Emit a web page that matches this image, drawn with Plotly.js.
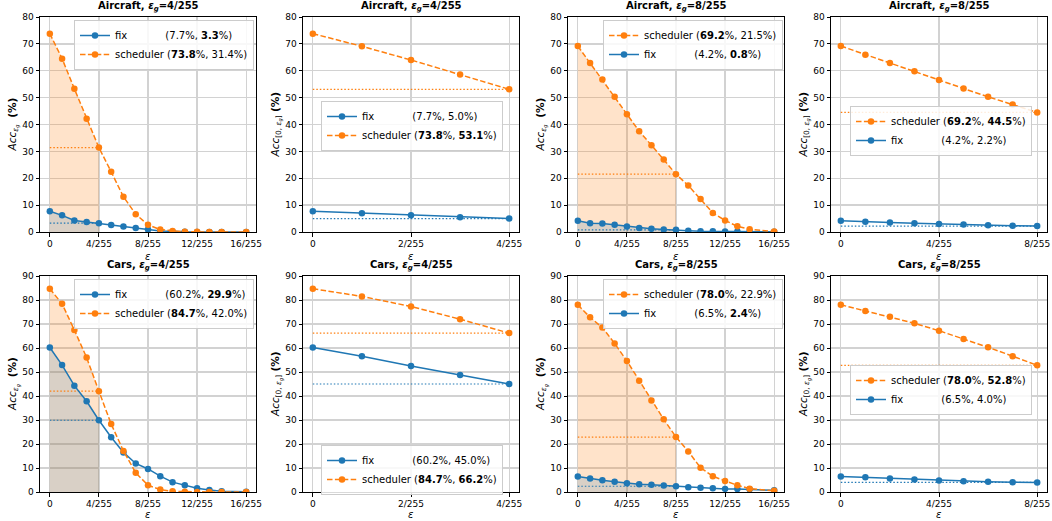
<!DOCTYPE html>
<html>
<head>
<meta charset="utf-8">
<script src="https://cdn.plot.ly/plotly-3.0.1.min.js"></script>
<style>html,body{margin:0;padding:0;background:#fff;}#chart{width:1052px;height:521px;}</style>
</head>
<body>
<div id="chart"></div>
<script>
// ---------------- DATA ----------------
const epsFull = [0,1,2,3,4,5,6,7,8,9,10,11,12,13,14,16];
const eps4 = [0,1,2,3,4];
const eps8 = [0,1,2,3,4,5,6,7,8];

const tickValsFull = [0,4,8,12,16];
const tickTextFull = ['0','4/255','8/255','12/255','16/255'];
const tickVals4 = [0,2,4];
const tickText4 = ['0','2/255','4/255'];
const tickVals8 = [0,4,8];
const tickText8 = ['0','4/255','8/255'];

// Aircraft, eps_g = 4/255
const air4Fix      = [7.7,6.2,4.3,3.7,3.3,2.6,2.0,1.5,0.9,0.4,0.1,0.05,0,0,0,0];
const air4Sched    = [73.8,64.5,53.3,42.1,31.4,22.4,13.1,6.6,2.7,0.9,0.4,0.1,0.05,0,0,0];
const air4FixAvg   = [7.7,7.0,6.2,5.5,5.0];
const air4SchedAvg = [73.8,69.1,64.0,58.6,53.1];
// Aircraft, eps_g = 8/255
const air8Fix      = [4.2,3.3,3.2,2.7,2.0,1.5,1.2,0.9,0.8,0.5,0.3,0.3,0.2,0.2,0.1,0.1];
const air8Sched    = [69.2,62.9,56.7,50.3,43.8,37.5,32.3,27.0,21.5,17.3,12.3,7.1,4.3,2.1,1.0,0.2];
const air8FixAvg   = [4.2,3.8,3.5,3.3,3.0,2.8,2.5,2.3,2.2];
const air8SchedAvg = [69.2,66.0,62.9,59.8,56.6,53.4,50.3,47.4,44.5];
// Cars, eps_g = 4/255
const cars4Fix      = [60.2,52.9,44.3,37.8,29.9,22.8,16.5,11.9,9.6,6.6,4.1,2.8,1.6,0.8,0.3,0.1];
const cars4Sched    = [84.7,78.4,67.5,56.0,42.0,28.3,17.1,8.0,2.8,1.0,0.3,0.1,0.05,0,0,0];
const cars4FixAvg   = [60.2,56.6,52.5,48.7,45.0];
const cars4SchedAvg = [84.7,81.5,77.3,72.0,66.2];
// Cars, eps_g = 8/255
const cars8Fix      = [6.5,5.6,4.9,4.3,3.6,3.2,3.0,2.7,2.4,2.0,1.8,1.6,1.3,1.2,1.1,0.7];
const cars8Sched    = [78.0,72.8,68.5,61.9,54.6,46.4,38.1,30.3,22.9,16.9,10.1,6.6,4.6,2.8,1.4,0.5];
const cars8FixAvg   = [6.5,6.1,5.6,5.2,4.8,4.5,4.3,4.1,4.0];
const cars8SchedAvg = [78.0,75.4,73.0,70.3,67.2,63.8,60.3,56.6,52.8];

// legend labels (clean %, robust %) ; bold marks the better one
const legFix = [
  '(7.7%, <b>3.3</b>%)', '(7.7%, 5.0%)', '(4.2%, <b>0.8</b>%)', '(4.2%, 2.2%)',
  '(60.2%, <b>29.9</b>%)', '(60.2%, 45.0%)', '(6.5%, <b>2.4</b>%)', '(6.5%, 4.0%)'];
const legSched = [
  '(<b>73.8</b>%, 31.4%)', '(<b>73.8</b>%, <b>53.1</b>%)', '(<b>69.2</b>%, 21.5%)', '(<b>69.2</b>%, <b>44.5</b>%)',
  '(<b>84.7</b>%, 42.0%)', '(<b>84.7</b>%, <b>66.2</b>%)', '(<b>78.0</b>%, 22.9%)', '(<b>78.0</b>%, <b>52.8</b>%)'];
const panelTitles = ['Aircraft', 'Aircraft', 'Aircraft', 'Aircraft', 'Cars', 'Cars', 'Cars', 'Cars'];
const panelEg = ['4/255','4/255','8/255','8/255','4/255','4/255','8/255','8/255'];

// ---------------- LAYOUT / STYLE ----------------
const W = 1052, H = 521;
const BLUE = '#1f77b4', ORANGE = '#ff7f0e';
const FONT = 'DejaVu Sans, sans-serif';
const cols = [[40,256],[303,519],[568,784],[831,1047]];
const rows = [[17,232],[276,492]];

const panels = [
  {kind:'curve', x:epsFull, fix:air4Fix,  sched:air4Sched,  eg:4, ymax:80, tv:tickValsFull, tt:tickTextFull, xr:[-0.8,16.8], leg:[74,20], schedFirst:false},
  {kind:'avg',   x:eps4,    fix:air4FixAvg, sched:air4SchedAvg, eg:4, ymax:80, tv:tickVals4, tt:tickText4, xr:[-0.2,4.2], leg:[321,101], schedFirst:false},
  {kind:'curve', x:epsFull, fix:air8Fix,  sched:air8Sched,  eg:8, ymax:80, tv:tickValsFull, tt:tickTextFull, xr:[-0.8,16.8], leg:[603,20], schedFirst:true},
  {kind:'avg',   x:eps8,    fix:air8FixAvg, sched:air8SchedAvg, eg:8, ymax:80, tv:tickVals8, tt:tickText8, xr:[-0.4,8.4], leg:[850,106], schedFirst:true},
  {kind:'curve', x:epsFull, fix:cars4Fix, sched:cars4Sched, eg:4, ymax:90, tv:tickValsFull, tt:tickTextFull, xr:[-0.8,16.8], leg:[74,279], schedFirst:false},
  {kind:'avg',   x:eps4,    fix:cars4FixAvg, sched:cars4SchedAvg, eg:4, ymax:90, tv:tickVals4, tt:tickText4, xr:[-0.2,4.2], leg:[321,445], schedFirst:false},
  {kind:'curve', x:epsFull, fix:cars8Fix, sched:cars8Sched, eg:8, ymax:90, tv:tickValsFull, tt:tickTextFull, xr:[-0.8,16.8], leg:[603,279], schedFirst:true},
  {kind:'avg',   x:eps8,    fix:cars8FixAvg, sched:cars8SchedAvg, eg:8, ymax:90, tv:tickVals8, tt:tickText8, xr:[-0.4,8.4], leg:[850,365], schedFirst:true},
];

const NB = '\u00a0';
const fixPad = 'fix' + NB.repeat(12);

const data = [];
const layout = {
  width: W, height: H,
  margin: {l:0, r:0, t:0, b:0},
  paper_bgcolor: '#fff', plot_bgcolor: '#fff',
  font: {family: FONT, size: 10, color: '#000'},
  showlegend: true,
  annotations: [],
  hovermode: false
};

panels.forEach((p, i) => {
  const n = i + 1;
  const xs = n === 1 ? '' : String(n);
  const xa = 'x' + xs, ya = 'y' + xs;
  const legName = n === 1 ? 'legend' : 'legend' + n;
  const rowIdx = Math.floor(i / 4);
  const c = cols[i % 4], r = rows[rowIdx];

  const axCommon = {
    showgrid: true, gridcolor: '#d2d2d2', gridwidth: 1.3,
    showline: true, mirror: true, linecolor: '#000', linewidth: 1,
    ticks: 'outside', ticklen: 3.5, tickcolor: '#000', tickwidth: 1,
    tickfont: {family: FONT, size: 9, color: '#000'}, zeroline: false, fixedrange: true
  };
  layout['xaxis' + xs] = Object.assign({
    domain: [c[0] / W, c[1] / W], anchor: ya, range: p.xr,
    tickmode: 'array', tickvals: p.tv, ticktext: p.tt
  }, axCommon);
  layout['yaxis' + xs] = Object.assign({
    domain: [1 - r[1] / H, 1 - r[0] / H], anchor: xa, range: [0, p.ymax],
    tickmode: 'linear', tick0: 0, dtick: 10
  }, axCommon);

  // fills under the curves up to eps_g
  if (p.kind === 'curve') {
    const xf = p.x.filter(v => v <= p.eg);
    data.push({x: xf, y: p.sched.slice(0, xf.length), xaxis: xa, yaxis: ya, mode: 'lines',
      fill: 'tozeroy', fillcolor: 'rgba(255,127,14,0.22)', line: {width: 0}, showlegend: false, hoverinfo: 'skip'});
    data.push({x: xf, y: p.fix.slice(0, xf.length), xaxis: xa, yaxis: ya, mode: 'lines',
      fill: 'tozeroy', fillcolor: 'rgba(31,119,180,0.17)', line: {width: 0}, showlegend: false, hoverinfo: 'skip'});
  }
  // dotted reference lines at value at eps_g
  const idx = p.x.indexOf(p.eg);
  const vS = p.sched[idx], vF = p.fix[idx];
  data.push({x: [0, p.eg], y: [vS, vS], xaxis: xa, yaxis: ya, mode: 'lines',
    line: {color: ORANGE, width: 1.2, dash: '1.5px,2px'}, showlegend: false, hoverinfo: 'skip'});
  data.push({x: [0, p.eg], y: [vF, vF], xaxis: xa, yaxis: ya, mode: 'lines',
    line: {color: BLUE, width: 1.2, dash: '1.5px,2px'}, showlegend: false, hoverinfo: 'skip'});

  const fixTr = {x: p.x, y: p.fix, xaxis: xa, yaxis: ya, mode: 'lines+markers', name: fixPad + legFix[i],
    line: {color: BLUE, width: 1.5}, marker: {color: BLUE, size: 6.5}, legend: legName, legendrank: p.schedFirst ? 2 : 1};
  const schTr = {x: p.x, y: p.sched, xaxis: xa, yaxis: ya, mode: 'lines+markers', name: 'scheduler ' + legSched[i],
    line: {color: ORANGE, width: 1.5, dash: '5.5px,2.4px'}, marker: {color: ORANGE, size: 6.5}, legend: legName, legendrank: p.schedFirst ? 1 : 2};
  data.push(fixTr, schTr);

  layout[legName] = {
    x: p.leg[0] / W, y: 1 - p.leg[1] / H, xanchor: 'left', yanchor: 'top',
    bgcolor: 'rgba(255,255,255,0.85)', bordercolor: '#cccccc', borderwidth: 1,
    font: {family: FONT, size: 10, color: '#000'}, itemwidth: 30, tracegroupgap: 0,
    traceorder: 'normal'
  };

  // subplot title
  layout.annotations.push({
    xref: 'paper', yref: 'paper', x: (c[0] + c[1]) / 2 / W, y: 1 - (r[0] - 2) / H,
    xanchor: 'center', yanchor: 'bottom', showarrow: false,
    text: '<b>' + panelTitles[i] + ', <i>ε</i><sub><i>g</i></sub>=' + panelEg[i] + '</b>',
    font: {family: FONT, size: 10, color: '#000'}
  });
  // y-axis title
  const ytxt = p.kind === 'curve'
    ? '<i>Acc</i><sub><i>ε<sub>g</sub></i></sub>  <b>(%)</b>'
    : '<i>Acc</i><sub>[0, <i>ε<sub>g</sub></i>]</sub> <b>(%)</b>';
  layout.annotations.push({
    xref: 'paper', yref: 'paper', x: (c[0] - 26) / W, y: 1 - (r[0] + r[1]) / 2 / H,
    xanchor: 'center', yanchor: 'middle', showarrow: false, textangle: -90,
    text: ytxt, font: {family: FONT, size: 10.5, color: '#000'}
  });
  // x-axis title
  const xTitle = rowIdx === 0
    ? {y: 1 - (r[1] + 24) / H, yanchor: 'middle'}
    : {y: 0, yanchor: 'bottom'};
  layout.annotations.push(Object.assign({
    xref: 'paper', yref: 'paper', x: (c[0] + c[1]) / 2 / W,
    xanchor: 'center', showarrow: false, borderpad: 0,
    text: '<i>ε</i>', font: {family: FONT, size: 10, color: '#000'}
  }, xTitle));
});

Plotly.newPlot('chart', data, layout, {staticPlot: true, displayModeBar: false});
</script>
</body>
</html>
